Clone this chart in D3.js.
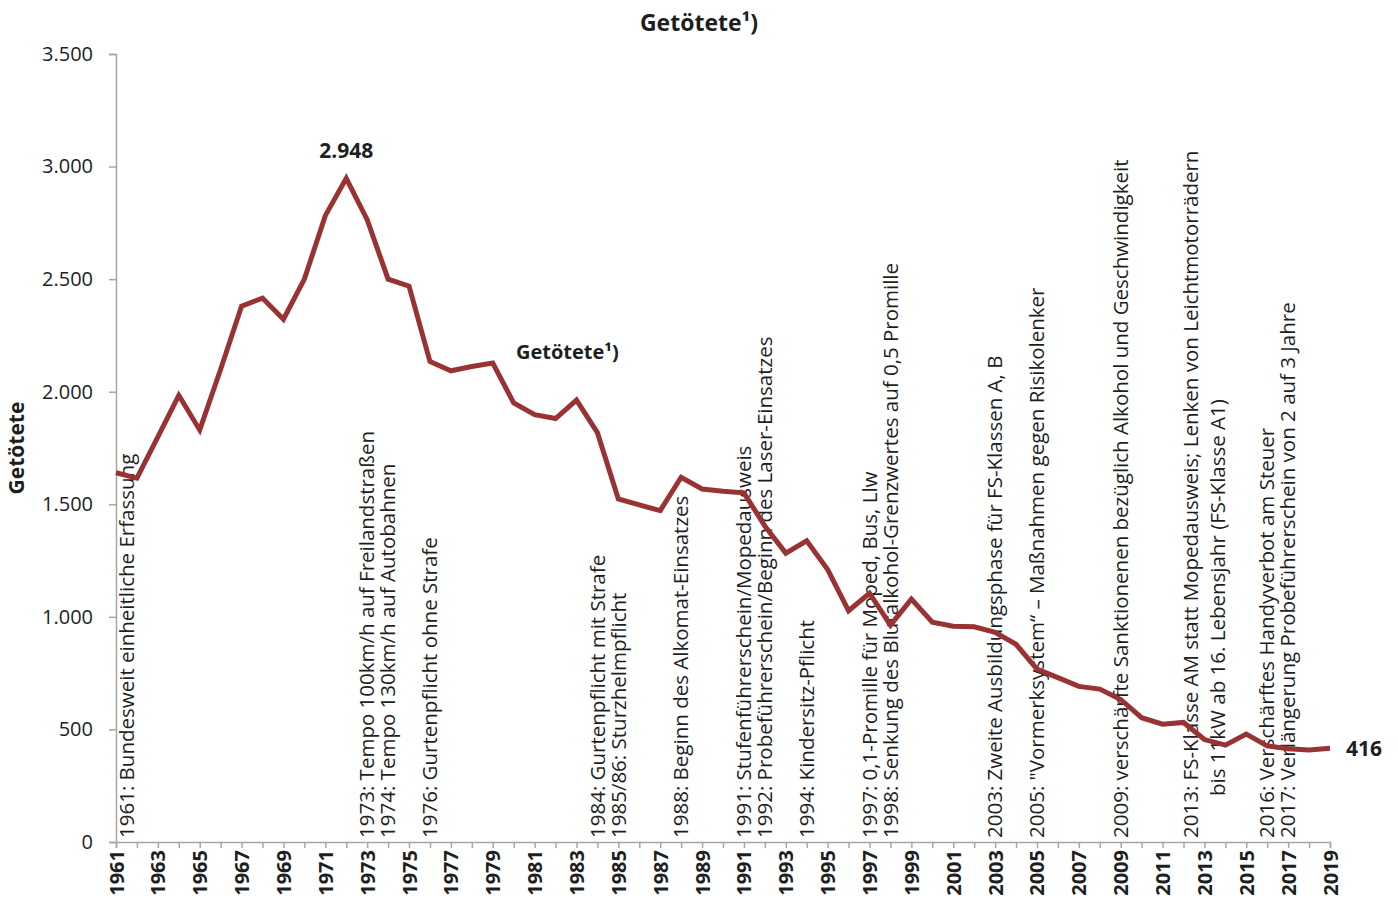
<!DOCTYPE html>
<html>
<head>
<meta charset="utf-8">
<script src="https://cdn.jsdelivr.net/npm/d3@7"></script>
<style>
  body { margin: 0; background: #fff; }
  svg text { font-family: "Open Sans", "Noto Sans", sans-serif; }
</style>
</head>
<body>
<svg id="chart" width="1398" height="899"></svg>
<script>
(function () {
    const W = 1398, H = 899;

    // Getötete (road deaths), 1961-2019
    const years = d3.range(1961, 2020);
    const deaths = [
        1640, 1616, 1799, 1984, 1830, 2100, 2380, 2416, 2322, 2500,
        2782, 2948, 2764, 2500, 2469, 2134, 2093, 2112, 2127, 1950,
        1898, 1881, 1963, 1818, 1524, 1497, 1472, 1620, 1568, 1558,
        1551, 1403, 1283, 1338, 1210, 1027, 1105, 963, 1079, 976,
        958, 956, 931, 878, 768, 730, 691, 679, 633, 552,
        523, 531, 455, 430, 479, 427, 414, 409, 416
    ];
    const yTicks = [0, 500, 1000, 1500, 2000, 2500, 3000, 3500];

    // milestones written vertically along the time axis
    const noteYears = [1961, 1973, 1974, 1976, 1984, 1985, 1988, 1991, 1992, 1994,
                       1997, 1998, 2003, 2005, 2009, 2013, 2016, 2017];
    const noteTexts = [
        ["1961: Bundesweit einheitliche Erfassung"],
        ["1973: Tempo 100km/h auf Freilandstraßen"],
        ["1974: Tempo 130km/h auf Autobahnen"],
        ["1976: Gurtenpflicht ohne Strafe"],
        ["1984: Gurtenpflicht mit Strafe"],
        ["1985/86: Sturzhelmpflicht"],
        ["1988: Beginn des Alkomat-Einsatzes"],
        ["1991: Stufenführerschein/Mopedausweis"],
        ["1992: Probeführerschein/Beginn des Laser-Einsatzes"],
        ["1994: Kindersitz-Pflicht"],
        ["1997: 0,1-Promille für Moped, Bus, Llw"],
        ["1998: Senkung des Blutalkohol-Grenzwertes auf 0,5 Promille"],
        ["2003: Zweite Ausbildungsphase für FS-Klassen A, B"],
        ["2005: \"Vormerksystem“ – Maßnahmen gegen Risikolenker"],
        ["2009: verschärfte Sanktionenen bezüglich Alkohol und Geschwindigkeit"],
        ["2013: FS-Klasse AM statt Mopedausweis; Lenken von Leichtmotorrädern",
         "bis 11kW ab 16. Lebensjahr (FS-Klasse A1)"],
        ["2016: Verschärftes Handyverbot am Steuer"],
        ["2017: Verlängerung Probeführerschein von 2 auf 3 Jahre"]
    ];

    const LINE_COLOR = "#993333";
    const AXIS_COLOR = "#a6a6a6";
    const TEXT_COLOR = "#1e1e1e";

    const svg = d3.select("#chart");
    const x = d3.scaleLinear().domain([1961, 2019]).range([116, 1330]);
    const y = d3.scaleLinear().domain([0, 3500]).range([842, 54]);

    // y axis
    const yAxis = svg.append("g")
        .attr("transform", `translate(${x(1961)},0)`)
        .call(d3.axisLeft(y).tickValues(yTicks).tickSize(7).tickPadding(16)
            .tickFormat(d => d3.format(",")(d).replace(/,/g, ".")));
    yAxis.select(".domain").attr("stroke", AXIS_COLOR).attr("stroke-width", 1.5);
    yAxis.selectAll(".tick line").attr("stroke", AXIS_COLOR).attr("stroke-width", 1.5);
    yAxis.selectAll(".tick text").attr("font-size", "20px").attr("fill", TEXT_COLOR)
        .attr("font-family", "'Open Sans', sans-serif");

    // x axis
    const xAxis = svg.append("g")
        .attr("transform", `translate(0,${y(0)})`)
        .call(d3.axisBottom(x).tickValues(years).tickSize(6)
            .tickFormat(d => (d % 2 === 1 ? String(d) : "")));
    xAxis.select(".domain").attr("stroke", AXIS_COLOR).attr("stroke-width", 1.5);
    xAxis.selectAll(".tick line").attr("stroke", AXIS_COLOR).attr("stroke-width", 1.5);
    xAxis.selectAll(".tick text")
        .attr("font-size", "20px").attr("font-weight", "bold").attr("fill", TEXT_COLOR)
        .attr("font-family", "'Open Sans', sans-serif")
        .attr("text-anchor", "end")
        .attr("transform", "rotate(-90)")
        .attr("x", -8).attr("y", 0).attr("dy", "0.35em");

    // milestone notes
    const notes = svg.append("g");
    noteYears.forEach((yr, i) => {
        const lines = noteTexts[i];
        const cx = Math.max(x(yr), x(1961) + 11);
        const lh = 27;
        lines.forEach((t, j) => {
            const lx = cx + (j - (lines.length - 1) / 2) * lh;
            notes.append("text")
                .attr("transform", `translate(${lx},${y(0) - 4 - (j > 0 ? 42 : 0)}) rotate(-90)`)
                .attr("dy", "0.35em")
                .attr("font-size", "20.5px")
                .attr("fill", TEXT_COLOR)
                .text(t);
        });
    });

    // data line
    const line = d3.line().x((d, i) => x(years[i])).y(d => y(d));
    svg.append("path")
        .datum(deaths)
        .attr("d", line)
        .attr("fill", "none")
        .attr("stroke", LINE_COLOR)
        .attr("stroke-width", 5)
        .attr("stroke-linejoin", "miter");

    // value labels
    const iMax = deaths.indexOf(d3.max(deaths));
    svg.append("text")
        .attr("x", x(years[iMax])).attr("y", y(deaths[iMax]) - 20)
        .attr("text-anchor", "middle")
        .attr("font-size", "21px").attr("font-weight", "bold").attr("fill", TEXT_COLOR)
        .text(d3.format(",")(deaths[iMax]).replace(/,/g, "."));
    const iLast = deaths.length - 1;
    svg.append("text")
        .attr("x", x(years[iLast]) + 16).attr("y", y(deaths[iLast]))
        .attr("dy", "0.35em")
        .attr("font-size", "21px").attr("font-weight", "bold").attr("fill", TEXT_COLOR)
        .text(deaths[iLast]);

    // series label inside the plot
    svg.append("text")
        .attr("x", 516).attr("y", 359)
        .attr("font-size", "20px").attr("font-weight", "bold").attr("fill", TEXT_COLOR)
        .text("Getötete¹)");

    // title
    svg.append("text")
        .attr("x", W / 2).attr("y", 31)
        .attr("text-anchor", "middle")
        .attr("font-size", "23px").attr("font-weight", "bold").attr("fill", TEXT_COLOR)
        .text("Getötete¹)");

    // y axis title
    svg.append("text")
        .attr("transform", `translate(17,${(y(0) + y(3500)) / 2}) rotate(-90)`)
        .attr("text-anchor", "middle")
        .attr("dy", "0.35em")
        .attr("font-size", "21px").attr("font-weight", "bold").attr("fill", TEXT_COLOR)
        .text("Getötete");
})();
</script>
</body>
</html>
